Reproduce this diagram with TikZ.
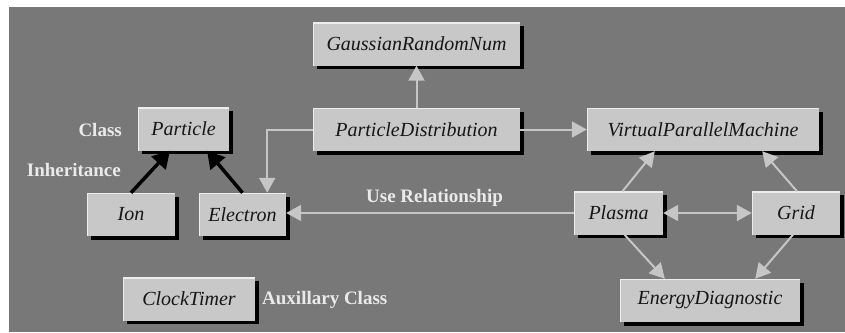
\documentclass[tikz,border=0pt]{standalone}
\usepackage{fontspec}
\setmainfont{Liberation Serif}
\usetikzlibrary{arrows.meta,shadows}

\definecolor{panel}{HTML}{787878}
\definecolor{boxfill}{HTML}{C8C8C8}
\definecolor{boxlight}{HTML}{EDEDED}
\definecolor{boxtext}{HTML}{161616}
\definecolor{uselink}{HTML}{C6C6C6}
\definecolor{captiontext}{HTML}{EAEAEA}

\tikzset{
  classbox/.style={
    draw=none, fill=boxfill, text=boxtext, inner sep=0pt,
    font=\itshape\fontsize{20}{22}\selectfont,
    minimum width=#1, minimum height=43pt,
    drop shadow={shadow xshift=3.5pt, shadow yshift=-3.5pt, fill=black, opacity=1},
    path picture={
      \draw[boxlight, line width=2.5pt]
        (path picture bounding box.south west) --
        (path picture bounding box.north west) --
        (path picture bounding box.north east);
    }
  },
  caption/.style={text=captiontext, font=\bfseries\fontsize{19}{21}\selectfont, inner sep=0pt},
  uses/.style={draw=uselink, line width=2pt,
    -{Triangle[length=15pt, width=16pt]}},
  usesboth/.style={draw=uselink, line width=2pt,
    {Triangle[length=15pt, width=16pt]}-{Triangle[length=15pt, width=16pt]}},
  inherits/.style={draw=black, line width=3.5pt,
    -{Triangle[length=17pt, width=19pt]}}
}

\begin{document}
\begin{tikzpicture}[x=1pt, y=-1pt]
  \useasboundingbox (0,0) rectangle (845,332);
  \fill[panel] (9,7) rectangle (845,332);

  % class boxes
  \node[classbox=207pt] (grn)  at (416.5,44)    {GaussianRandomNum};
  \node[classbox=91pt]  (part) at (183.5,129)   {Particle};
  \node[classbox=207pt] (pd)   at (416.5,129.5) {ParticleDistribution};
  \node[classbox=232pt] (vpm)  at (703,129.5)   {VirtualParallelMachine};
  \node[classbox=88pt]  (ion)  at (131,214.5)   {Ion};
  \node[classbox=87pt]  (elec) at (242.5,214.5) {Electron};
  \node[classbox=132pt] (clk)  at (189,299)     {ClockTimer};
  \node[classbox=89pt]  (pls)  at (618.5,213)   {Plasma};
  \node[classbox=88pt]  (grid) at (796,213)     {Grid};
  \node[classbox=180pt] (ed)   at (710,300.5)   {EnergyDiagnostic};

  % legend captions
  \node[caption, anchor=east] (lclass) at (122,130) {Class};
  \node[caption, anchor=east] (linh)   at (121,170) {Inheritance};
  \node[caption]              (luse)   at (434.5,198) {Use Relationship};
  \node[caption, anchor=west] (laux)   at (262,300) {Auxillary Class};

  % inheritance
  \draw[inherits] (ion.north) -- ([xshift=-13.5pt]part.south);
  \draw[inherits] (elec.north) -- ([xshift=23.5pt]part.south);

  % use relationships
  \draw[uses] (pd.north) -- (grn.south);
  \draw[uses] (pd.east) -- (vpm.west);
  \draw[uses] (pd.west) -| ([xshift=-19pt]elec.north east);
  \draw[uses] (pls.west) -- (pls.west -| elec.east);
  \draw[usesboth] (pls.east) -- (grid.west);
  \draw[uses] ([xshift=4pt]pls.north) -- ([xshift=68pt]vpm.south west);
  \draw[uses] ([xshift=1pt]grid.north) -- ([xshift=-57pt]vpm.south east);
  \draw[uses] ([xshift=6pt]pls.south) -- ([xshift=45pt]ed.north west);
  \draw[uses] ([xshift=-3pt]grid.south) -- ([xshift=-45pt]ed.north east);
\end{tikzpicture}
\end{document}
